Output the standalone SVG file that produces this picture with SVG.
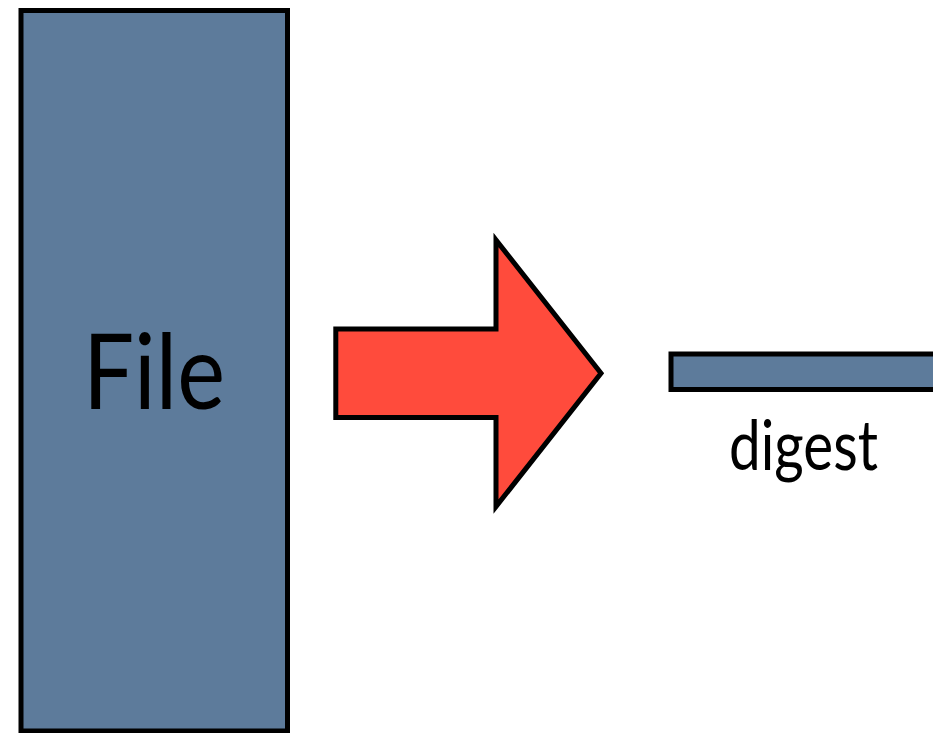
<svg xmlns="http://www.w3.org/2000/svg" width="933" height="733" viewBox="0 0 933 733">
  <style>
    .box { fill: #5d7b9b; stroke: #000; stroke-width: 5; }
    .arrow { fill: #ff4b3c; stroke: #000; stroke-width: 5; stroke-linejoin: miter; stroke-miterlimit: 10; }
    .lbl { font-family: Lato, "Liberation Sans", Arial, sans-serif; fill: #000; }
  </style>
  <rect width="933" height="733" fill="#ffffff"/>
  <g id="file">
    <rect class="box" x="21" y="10.5" width="266.5" height="720.5"/>
    <text class="lbl" x="154" y="409" font-size="105" text-anchor="middle" textLength="142" lengthAdjust="spacingAndGlyphs">File</text>
  </g>
  <g id="connectors">
    <polygon class="arrow" points="335.8,329 496,329 496,240 601,373.3 496,506.6 496,417.5 335.8,417.5"/>
  </g>
  <g id="digest">
    <rect class="box" x="671" y="354" width="270" height="35.5"/>
    <text class="lbl" x="803.5" y="470" font-size="70" text-anchor="middle" textLength="149" lengthAdjust="spacingAndGlyphs">digest</text>
  </g>
</svg>
